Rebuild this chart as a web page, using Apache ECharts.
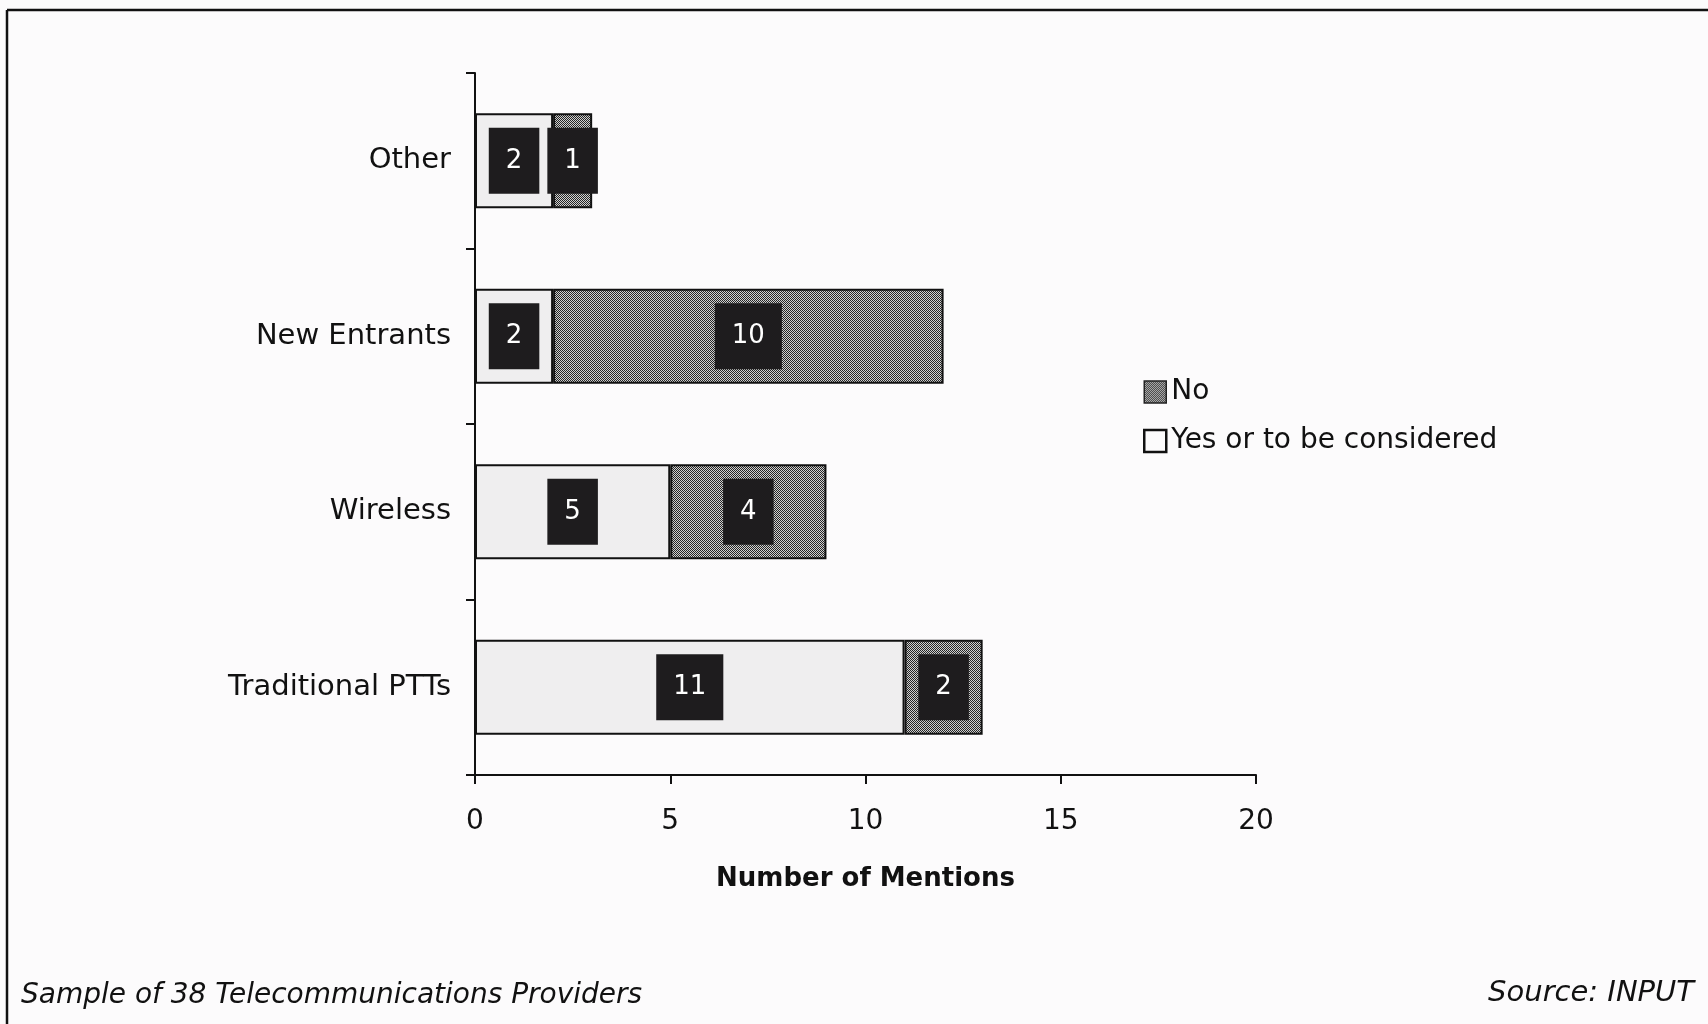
<!DOCTYPE html>
<html>
<head>
<meta charset="utf-8">
<script src="https://cdn.jsdelivr.net/npm/echarts@6/dist/echarts.min.js"></script>
<style>
html,body{margin:0;padding:0;background:#fcfbfc;}
#chart{width:1708px;height:1024px;}
</style>
</head>
<body>
<div id="chart"></div>
<script>
const categories = ['Traditional PTTs', 'Wireless', 'New Entrants', 'Other'];
const yesValues = [11, 5, 2, 2];
const noValues = [2, 4, 10, 1];
const xTicks = [0, 5, 10, 15, 20];
const seriesNames = ['Yes or to be considered', 'No'];

function makePattern() {
  const c = document.createElement('canvas');
  c.width = 2; c.height = 2;
  const ctx = c.getContext('2d');
  ctx.fillStyle = '#d0d0d0'; ctx.fillRect(0, 0, 2, 2);
  ctx.fillStyle = '#252525';
  ctx.fillRect(0, 0, 1, 1); ctx.fillRect(1, 1, 1, 1);
  return c;
}
const pattern = { image: makePattern(), repeat: 'repeat' };

const FONT = '"DejaVu Sans", Verdana, sans-serif';
const FS = 28;
const labelStyle = {
  show: true, position: 'inside', color: '#ffffff', fontSize: 26, fontFamily: FONT,
  backgroundColor: '#1e1c1e', padding: [21, 17, 19, 17], lineHeight: 26
};

const chart = echarts.init(document.getElementById('chart'));
chart.setOption({
  backgroundColor: '#fcfbfc',
  animation: false,
  textStyle: { fontFamily: FONT, color: '#000' },
  grid: { left: 475, right: 452, top: 73, bottom: 249, containLabel: false },
  legend: {
    orient: 'vertical', left: 1138, top: 373, itemGap: 21, itemWidth: 22, itemHeight: 22,
    data: [
      { name: seriesNames[1], icon: 'rect', itemStyle: { color: pattern, borderColor: '#222', borderWidth: 1.5 } },
      { name: seriesNames[0], icon: 'rect', itemStyle: { color: '#fcfbfc', borderColor: '#111', borderWidth: 2.5 } }
    ],
    textStyle: { fontSize: FS, fontFamily: FONT, color: '#111', padding: [0, 0, 0, 0] }
  },
  xAxis: {
    type: 'value', min: 0, max: 20, interval: 5,
    name: 'Number of Mentions', nameLocation: 'middle', nameGap: 91,
    nameTextStyle: { fontSize: 26, fontWeight: 'bold', fontFamily: FONT, color: '#111' },
    axisLine: { show: true, lineStyle: { color: '#111', width: 2 } },
    axisTick: { show: true, length: 9, lineStyle: { color: '#111', width: 2 } },
    axisLabel: { fontSize: FS, color: '#111', margin: 33, fontFamily: FONT,
      formatter: v => xTicks.includes(v) ? String(v) : '' },
    splitLine: { show: false }
  },
  yAxis: {
    type: 'category', data: categories,
    axisLine: { show: true, lineStyle: { color: '#111', width: 2 } },
    axisTick: { show: true, length: 9, lineStyle: { color: '#111', width: 2 } },
    axisLabel: { fontSize: 29, color: '#111', margin: 24, fontFamily: FONT, padding: [4, 0, 0, 0] }
  },
  series: [
    {
      name: seriesNames[0], type: 'bar', stack: 'total', data: yesValues, barWidth: '54%',
      itemStyle: { color: '#efeeef', borderColor: '#111', borderWidth: 2 },
      label: labelStyle
    },
    {
      name: seriesNames[1], type: 'bar', stack: 'total', data: noValues, barWidth: '54%',
      itemStyle: { color: pattern, borderColor: '#111', borderWidth: 2 },
      label: labelStyle
    }
  ],
  graphic: [
    { type: 'line', shape: { x1: 7, y1: 10, x2: 1708, y2: 10 }, style: { stroke: '#111', lineWidth: 2.5 } },
    { type: 'line', shape: { x1: 7, y1: 10, x2: 7, y2: 1024 }, style: { stroke: '#111', lineWidth: 2.5 } },
    { type: 'text', left: 21, top: 982, style: { text: 'Sample of 38 Telecommunications Providers', font: 'oblique 28px "DejaVu Sans", sans-serif', fill: '#111' } },
    { type: 'text', right: 14, top: 979, style: { text: 'Source: INPUT', font: 'oblique 29px "DejaVu Sans", sans-serif', fill: '#111' } }
  ]
});
</script>
</body>
</html>
